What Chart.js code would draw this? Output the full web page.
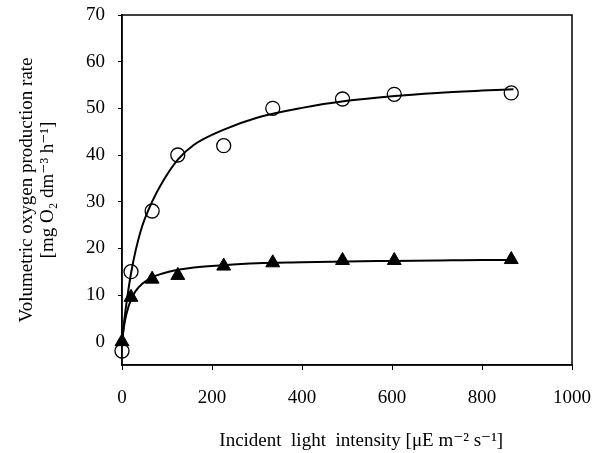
<!DOCTYPE html>
<html>
<head>
<meta charset="utf-8">
<script src="https://cdn.jsdelivr.net/npm/chart.js@4/dist/chart.umd.min.js"></script>
<style>
  html, body { margin: 0; padding: 0; background: #fff; }
  #wrap { width: 597px; height: 453px; }
</style>
</head>
<body>
<div id="wrap"><canvas id="chart" width="597" height="453"></canvas></div>
<script>
// measured points (incident light intensity vs O2 production rate)
const lightX = [0, 20, 67, 124, 226, 335, 490, 605, 865];
const circleY = [-2, 15, 28, 40, 42, 50, 52, 53, 53.3];
const triangleY = [0, 9.5, 13.4, 14.2, 16.2, 16.9, 17.4, 17.4, 17.6];

// fitted curves
const fitX = [0, 5, 10, 20, 30, 45, 67, 90, 124, 160, 225, 300, 400, 500, 600, 700, 800, 870];
const circleFit = [0, 4.5, 8.3, 14.6, 19.4, 24.8, 30, 34.2, 39, 42.2, 45.4, 48, 50.1, 51.6, 52.6, 53.3, 53.8, 54.1];
const triangleFit = [0, 3.6, 6, 9, 10.8, 12.4, 13.8, 14.6, 15.4, 15.9, 16.4, 16.8, 17.0, 17.2, 17.3, 17.4, 17.5, 17.5];

const xTicks = [0, 200, 400, 600, 800, 1000];
const yTicks = [0, 10, 20, 30, 40, 50, 60, 70];

const toPoints = (xs, ys) => xs.map((x, i) => ({ x: x, y: ys[i] }));
const serif = "'Liberation Serif', 'DejaVu Serif', serif";

// frame round the plot area (top and right sides too)
const framePlugin = {
  id: "frame",
  afterDraw(chart) {
    const { ctx, chartArea: a } = chart;
    ctx.save();
    ctx.strokeStyle = "#000";
    ctx.lineWidth = 1.5;
    ctx.strokeRect(a.left, a.top, a.right - a.left, a.bottom - a.top);
    ctx.restore();
  }
};

const ctx = document.getElementById("chart").getContext("2d");
new Chart(ctx, {
  type: "scatter",
  data: {
    datasets: [
      {
        data: toPoints(lightX, circleY),
        pointStyle: "circle",
        pointRadius: 7,
        pointBorderWidth: 1.3,
        pointBorderColor: "#000",
        pointBackgroundColor: "rgba(0,0,0,0)",
        showLine: false,
        clip: false
      },
      {
        data: toPoints(lightX, triangleY),
        pointStyle: "triangle",
        pointRadius: 8,
        pointBorderWidth: 1,
        pointBorderColor: "#000",
        pointBackgroundColor: "#000",
        showLine: false,
        clip: false
      },
      {
        data: toPoints(fitX, circleFit),
        showLine: true,
        borderColor: "#000",
        borderWidth: 2,
        pointRadius: 0,
        cubicInterpolationMode: "monotone",
        clip: false
      },
      {
        data: toPoints(fitX, triangleFit),
        showLine: true,
        borderColor: "#000",
        borderWidth: 2,
        pointRadius: 0,
        cubicInterpolationMode: "monotone",
        clip: false
      }
    ]
  },
  options: {
    responsive: false,
    animation: false,
    layout: { padding: { top: 15, right: 25, left: 0, bottom: 0 } },
    plugins: {
      legend: { display: false },
      tooltip: { enabled: false }
    },
    scales: {
      x: {
        type: "linear",
        min: 0,
        max: 1000,
        afterBuildTicks: (axis) => { axis.ticks = xTicks.map(v => ({ value: v })); },
        afterFit: (scale) => {
          scale.height = 88;
          scale.paddingLeft = 0;
          scale.paddingRight = 0;
        },
        border: { display: true, color: "#000", width: 1.5 },
        grid: { drawOnChartArea: false, drawTicks: true, tickLength: 5, color: "#000", lineWidth: 1 },
        ticks: {
          color: "#000", padding: 17, maxRotation: 0,
          font: { family: serif, size: 19 },
          callback: (v) => String(v)
        },
        title: {
          display: true,
          text: "      Incident  light  intensity [\u03bcE m\u207b\u00b2 s\u207b\u00b9]",
          color: "#000",
          font: { family: serif, size: 19, lineHeight: 1.15 },
          padding: { top: 0, bottom: 1 }
        }
      },
      y: {
        type: "linear",
        min: -5,
        max: 70,
        afterBuildTicks: (axis) => { axis.ticks = yTicks.map(v => ({ value: v })); },
        afterFit: (scale) => {
          scale.width = 122;
          scale.paddingTop = 0;
          scale.paddingBottom = 0;
        },
        border: { display: true, color: "#000", width: 1.5 },
        grid: { drawOnChartArea: false, drawTicks: true, tickLength: 4, color: "#000", lineWidth: 1 },
        ticks: { color: "#000", padding: 13, font: { family: serif, size: 19 } },
        title: {
          display: true,
          text: ["Volumetric oxygen production rate", "[mg O\u2082 dm\u207b\u00b3 h\u207b\u00b9]"],
          color: "#000",
          font: { family: serif, size: 19, lineHeight: 1.1 },
          padding: { top: 17, bottom: 0 }
        }
      }
    }
  },
  plugins: [framePlugin]
});
</script>
</body>
</html>
